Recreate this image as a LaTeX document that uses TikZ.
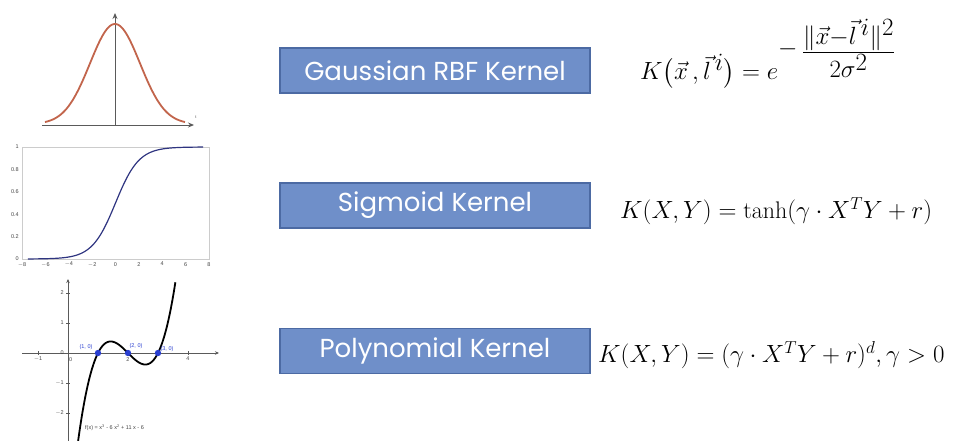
\documentclass[tikz,border=0pt]{standalone}
\usepackage{amsmath}
\usepackage{graphicx}
\usepackage{fontspec}
\newfontfamily\boxfont{Poppins}
\newfontfamily\plotfont{Liberation Sans}
\usetikzlibrary{arrows.meta}

\definecolor{boxfill}{HTML}{6F8FC9}
\definecolor{boxedge}{HTML}{4C6AA3}
\definecolor{gausscol}{HTML}{C2654C}
\definecolor{sigcol}{HTML}{2E3480}
\definecolor{axiscol}{HTML}{5A5A5A}
\definecolor{ticktext}{HTML}{444444}
\definecolor{rootcol}{HTML}{2A3FD0}

\tikzset{
  kernelbox/.style={draw=boxedge, line width=1.2pt, fill=boxfill, text=white,
    minimum width=310pt, minimum height=45pt, inner sep=0pt,
    font=\boxfont\fontsize{26}{28}\selectfont},
  plotaxis/.style={draw=axiscol, line width=0.9pt},
  ticklabel/.style={text=ticktext, font=\plotfont\fontsize{5.5}{6}\selectfont, inner sep=1pt},
  rootlabel/.style={text=rootcol, font=\plotfont\fontsize{5.5}{6}\selectfont, inner sep=1pt},
  eqbig/.style={font=\fontsize{40}{46}\selectfont, inner sep=0pt},
  eqsmall/.style={font=\fontsize{24}{28}\selectfont, inner sep=0pt},
}

\begin{document}
\begin{tikzpicture}[x=1pt, y=-1pt]
\useasboundingbox (0,0) rectangle (953,441);

% ---------- Gaussian bell curve ----------
\draw[plotaxis, -{Stealth[length=6pt,width=5pt]}] (42,125) -- (194,125);
\draw[plotaxis, -{Stealth[length=6pt,width=5pt]}] (115,125) -- (115,13);
\draw[gausscol, line width=1.8pt] plot[domain=45:185, samples=120]
  (\x, {124 - 100*exp(-((\x-115)^2)/(2*25^2))});
\node[ticklabel, font=\plotfont\fontsize{4}{5}\selectfont] (glabel) at (196,117) {t};

% ---------- Sigmoid curve ----------
\draw[black!20, line width=0.8pt] (22,147) rectangle (209,259);
\foreach \v/\t in {0/0, 0.2/0.2, 0.4/0.4, 0.6/0.6, 0.8/0.8, 1/1}
  \node[ticklabel, anchor=east] at (20,{259-112*\v}) {\t};
\foreach \v/\t in {-8/$-$8, -6/$-$6, -4/$-$4, -2/$-$2, 0/0, 2/2, 4/4, 6/6, 8/8}
  \node[ticklabel, anchor=north] at ({22+(\v+8)*11.6875},261) {\t};
\draw[sigcol, line width=1.2pt] plot[domain=-7.5:7.5, samples=120]
  ({22+(\x+8)*11.6875}, {259-112/(1+exp(-\x))});

% ---------- Cubic polynomial ----------
\begin{scope}
\clip (0,270) rectangle (240,441);
\draw[plotaxis, line width=0.7pt, -{Stealth[length=4pt,width=3.5pt]}] (22,353) -- (219,353);
\draw[plotaxis, line width=0.7pt, -{Stealth[length=4pt,width=3.5pt]}] (68,445) -- (68,279);
\foreach \v in {-1,1,2,3,4}
  \draw[axiscol, line width=0.5pt] ({68+30*\v},351) -- ({68+30*\v},355);
\foreach \v in {-2,-1,1,2}
  \draw[axiscol, line width=0.5pt] (66,{353-30*\v}) -- (70,{353-30*\v});
\foreach \v/\t in {-1/$-$1, 2/2, 4/4}
  \node[ticklabel, anchor=north] at ({68+30*\v},356) {\t};
\node[ticklabel, anchor=north west] at (68,356) {0};
\foreach \v/\t in {2/2, 1/1, 0/0, -1/$-$1, -2/$-$2}
  \node[ticklabel, anchor=east] at (65,{353-30*\v}) {\t};
\draw[black, line width=1.8pt] plot[domain=0.28:3.58, samples=150]
  ({68+30*\x}, {353-30*(\x-1)*(\x-2)*(\x-3)});
\foreach \v in {1,2,3}
  \fill[rootcol] ({68+30*\v},353) circle (3.2pt);
\node[rootlabel] (r1) at (86,347) {(1, 0)};
\node[rootlabel] (r2) at (136,346) {(2, 0)};
\node[rootlabel] (r3) at (167,349) {(3, 0)};
\node[ticklabel, anchor=west] (flabel) at (84,428) {f(x) = x\textsuperscript{3} - 6 x\textsuperscript{2} + 11 x - 6};
\end{scope}

% ---------- Kernel name boxes ----------
\node[kernelbox] (gauss) at (435,70.5) {Gaussian RBF Kernel};
\node[kernelbox] (sigm)  at (435,205.5) {Sigmoid Kernel};
\node[kernelbox] (poly)  at (435,351) {Polynomial Kernel};

% ---------- Kernel formulas ----------
\node[eqbig, anchor=base west] (eqgauss) at (640,80)
  {$K\bigl(\vec{x}\,,\vec{l}^{\,i}\bigr) = e^{-\,\raisebox{-4pt}{\scalebox{1.2}{$\scriptstyle\frac{\|\vec{x}-\vec{l}^{\,i}\|^{2}}{2\sigma^{2}}$}}}$};
\node[eqsmall, anchor=west] (eqsigm) at (620,211)
  {$K(X,Y) = \tanh(\gamma\cdot X^{T}Y + r)$};
\node[eqsmall, anchor=west] (eqpoly) at (598,355)
  {$K(X,Y) = (\gamma\cdot X^{T}Y + r)^{d}, \gamma > 0$};
\end{tikzpicture}
\end{document}
